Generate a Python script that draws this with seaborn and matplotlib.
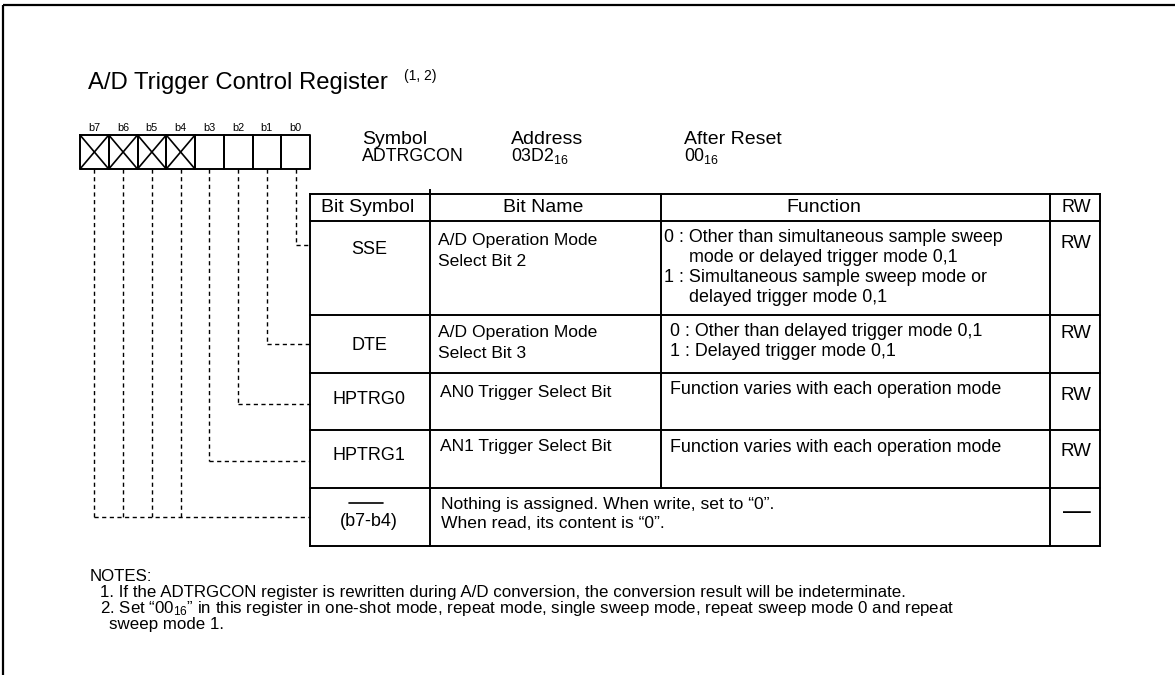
import matplotlib
matplotlib.use("Agg")
import matplotlib.pyplot as plt
import seaborn as sns

sns.set_theme(style="white")
plt.rcParams['font.family'] = ['Liberation Sans', 'DejaVu Sans']
plt.rcParams['mathtext.fontset'] = 'custom'
plt.rcParams['mathtext.rm'] = 'Liberation Sans'
plt.rcParams['mathtext.it'] = 'Liberation Sans:italic'
plt.rcParams['mathtext.bf'] = 'Liberation Sans:bold'

# ---------------- data ----------------
title = "A/D Trigger Control Register"
title_note = "(1, 2)"
bit_labels = ["b7", "b6", "b5", "b4", "b3", "b2", "b1", "b0"]
reserved_bits = ["b7", "b6", "b5", "b4"]
info_headers = ["Symbol", "Address", "After Reset"]
info_values = ["ADTRGCON", r"03D2$\mathregular{_{16}}$", r"00$\mathregular{_{16}}$"]
col_headers = ["Bit Symbol", "Bit Name", "Function", "RW"]
bit_symbols = ["SSE", "DTE", "HPTRG0", "HPTRG1", "(b7-b4)"]
bit_sources = [["b0"], ["b1"], ["b2"], ["b3"], ["b7", "b6", "b5", "b4"]]
bit_names = [
    ["A/D Operation Mode", "Select Bit 2"],
    ["A/D Operation Mode", "Select Bit 3"],
    ["AN0 Trigger Select Bit"],
    ["AN1 Trigger Select Bit"],
    ["Nothing is assigned. When write, set to \u201c0\u201d.",
     "When read, its content is \u201c0\u201d."],
]
functions = [
    ["0 : Other than simultaneous sample sweep", "mode or delayed trigger mode 0,1",
     "1 : Simultaneous sample sweep mode or", "delayed trigger mode 0,1"],
    ["0 : Other than delayed trigger mode 0,1", "1 : Delayed trigger mode 0,1"],
    ["Function varies with each operation mode"],
    ["Function varies with each operation mode"],
    [],
]
rw_values = ["RW", "RW", "RW", "RW", "\u2014"]
notes_title = "NOTES:"
notes = [
    "1. If the ADTRGCON register is rewritten during A/D conversion, the conversion result will be indeterminate.",
    "2. Set \u201c00$\\mathregular{_{16}}$\u201d in this register in one-shot mode, repeat mode, single sweep mode, repeat sweep mode 0 and repeat",
    "sweep mode 1.",
]

# ---------------- layout ----------------
W, H = 1175, 675
fig = plt.figure(figsize=(W / 100, H / 100), dpi=100)
ax = fig.add_axes([0, 0, 1, 1])
ax.set_xlim(0, W)
ax.set_ylim(H, 0)
ax.axis("off")

K = "#000000"
LW = 1.4

# outer frame (top and left)
ax.plot([3, W], [5, 5], color=K, lw=1.6, solid_capstyle="butt")
ax.plot([3, 3], [5, H], color=K, lw=1.6, solid_capstyle="butt")

# title
ax.text(88, 89, title, fontsize=17.2, va="baseline", ha="left", color=K)
ax.text(404, 80, title_note, fontsize=10, va="baseline", ha="left", color=K)

# bit boxes
bx0, bx1, by0, by1 = 80, 310, 135, 169
cw = (bx1 - bx0) / len(bit_labels)
centers = {}
for i, lab in enumerate(bit_labels):
    x0 = bx0 + i * cw
    cx = x0 + cw / 2
    centers[lab] = cx
    ax.text(cx, 131, lab, fontsize=7.8, ha="center", va="baseline", color=K)
    ax.plot([x0, x0 + cw, x0 + cw, x0, x0], [by0, by0, by1, by1, by0], color=K, lw=LW)
    if lab in reserved_bits:
        ax.plot([x0, x0 + cw], [by0, by1], color=K, lw=1.2)
        ax.plot([x0, x0 + cw], [by1, by0], color=K, lw=1.2)

# symbol / address / after reset
info_x = [362, 511, 684]
for x, h, v in zip(info_x, info_headers, info_values):
    ax.text(x, 144, h, fontsize=14, ha="left", va="baseline", color=K)
    ax.text(x, 161, v, fontsize=12.8, ha="left", va="baseline", color=K)

# table
xe = [310, 430, 661, 1050, 1100]
ye = [194, 221, 315, 373, 430, 488, 546]
for y in ye:
    ax.plot([xe[0], xe[-1]], [y, y], color=K, lw=LW, solid_capstyle="projecting")
for j, x in enumerate(xe):
    top = 190 if j == 1 else ye[0]
    if j == 2:
        ax.plot([x, x], [ye[0], ye[-2]], color=K, lw=LW)
    else:
        ax.plot([x, x], [top, ye[-1]], color=K, lw=LW, solid_capstyle="projecting")

# headers
hdr_x = [368, 543, 824, 1076]
hdr_fs = [14, 14, 14, 13]
for x, t, fs in zip(hdr_x, col_headers, hdr_fs):
    ax.text(x, 207, t, fontsize=fs, ha="center", va="center", color=K)

# rows
sym_y = [249, 346, 399, 456, 522]
name_y = [241, 333, 392, 447, 504]
func_y = [237, 332, 390, 448, 0]
rw_y = [243, 334, 395, 451, 512]
conn_y = [245, 344, 404, 461, 517]
name_x = [438, 438, 440, 440, 441]
func_x0 = [664, 670, 670, 670, 670]
LS = 20
for r in range(len(bit_symbols)):
    ax.text(369, sym_y[r], bit_symbols[r], fontsize=13, ha="center", va="center", color=K)
    for k, line in enumerate(bit_names[r]):
        ax.text(name_x[r], name_y[r] + k * LS * (0.95 if r == 4 else 1), line,
                fontsize=12.6, ha="left", va="center", color=K)
    for k, line in enumerate(functions[r]):
        indent = 0 if line[:1].isdigit() and line[1:4] == " : " or not functions[r][0][:1].isdigit() else 25
        ax.text(func_x0[r] + indent, func_y[r] + k * LS, line, fontsize=12.9,
                ha="left", va="center", color=K)
    if rw_values[r] == "\u2014":
        ax.text(1077, rw_y[r], rw_values[r], fontsize=20, ha="center", va="center", color=K)
    else:
        ax.text(1076, rw_y[r], rw_values[r], fontsize=13.5, ha="center", va="center", color=K)
    # dashed connectors
    srcs = bit_sources[r]
    xs = [centers[b] for b in srcs]
    for x in xs:
        ax.plot([x, x], [by1, conn_y[r]], color=K, lw=1.0, ls=(0, (3, 2.5)))
    ax.plot([min(xs), xe[0]], [conn_y[r], conn_y[r]], color=K, lw=1.0, ls=(0, (3, 2.5)))

# overline on reserved bit symbol
ax.plot([349, 383], [503, 503], color=K, lw=1.2)

# notes
NFS = 12.2
ax.text(90, 575, notes_title, fontsize=NFS, ha="left", va="baseline", color=K, position=(90, 581))
note_x = [100, 100, 109]
note_base = [597, 613, 629]
for x, y, t in zip(note_x, note_base, notes):
    ax.text(x, y, t, fontsize=NFS, ha="left", va="baseline", color=K)

fig.savefig("out.png", dpi=100)
